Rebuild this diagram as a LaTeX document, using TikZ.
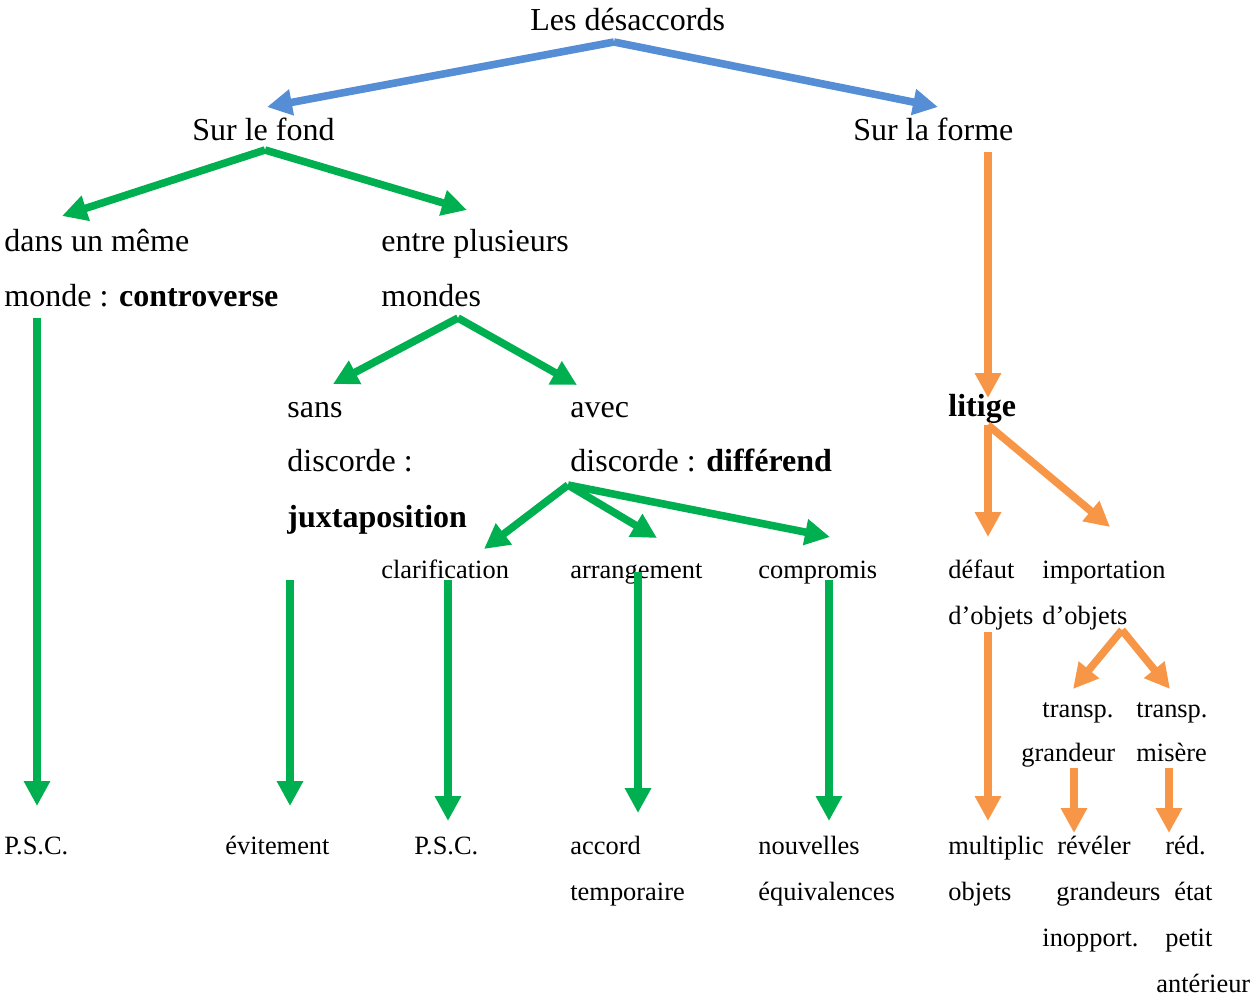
\documentclass[tikz,border=0pt]{standalone}
\usepackage{fontspec}
\setmainfont{Liberation Serif}
\usetikzlibrary{arrows.meta}
\definecolor{cblue}{HTML}{558ED5}
\definecolor{cgreen}{HTML}{00B050}
\definecolor{corange}{HTML}{F79646}
\tikzset{
  big/.style={anchor=base west,inner sep=0pt,font=\fontsize{16}{19}\selectfont},
  small/.style={anchor=base west,inner sep=0pt,font=\fontsize{13.2}{16}\selectfont},
  arr/.style={line width=3.8pt,-{Triangle[length=12.5pt,width=12.5pt]}},
  barr/.style={arr,draw=cblue,fill=cblue},
  garr/.style={arr,draw=cgreen,fill=cgreen},
  oarr/.style={arr,draw=corange,fill=corange},
}
\begin{document}
\begin{tikzpicture}[x=0.5pt,y=-0.5pt]
\useasboundingbox (0,0) rectangle (1251,997);
% texts
\node[big] (root) at (530,30) {Les désaccords};
\node[big] (fond) at (192,140) {Sur le fond};
\node[big] (forme) at (853,140) {Sur la forme};
\node[big] (meme1) at (4,251) {dans un même};
\node[big] (meme2) at (4,306) {monde : \textbf{controverse}};
\node[big] (entre1) at (381,251) {entre plusieurs};
\node[big] (entre2) at (381,306) {mondes};
\node[big] (sans1) at (287,417) {sans};
\node[big] (sans2) at (287,471) {discorde :};
\node[big] (sans3) at (287,527) {\textbf{juxtaposition}};
\node[big] (avec1) at (570,417) {avec};
\node[big] (avec2) at (570,471) {discorde : \textbf{différend}};
\node[big] (litige) at (948,416) {\textbf{litige}};
\node[small] (clar) at (381,578) {clarification};
\node[small] (arrg) at (570,578) {arrangement};
\node[small] (comp) at (758,578) {compromis};
\node[small] (def1) at (948,578) {défaut};
\node[small] (def2) at (948,624) {d’objets};
\node[small] (imp1) at (1042,578) {importation};
\node[small] (imp2) at (1042,624) {d’objets};
\node[small] (tg1) at (1042,717) {transp.};
\node[small] (tg2) at (1021,761) {grandeur};
\node[small] (tm1) at (1136,717) {transp.};
\node[small] (tm2) at (1136,761) {misère};
\node[small] (psc1) at (4,854) {P.S.C.};
\node[small] (evit) at (225,854) {évitement};
\node[small] (psc2) at (414,854) {P.S.C.};
\node[small] (acc1) at (570,854) {accord};
\node[small] (acc2) at (570,900) {temporaire};
\node[small] (nouv1) at (758,854) {nouvelles};
\node[small] (nouv2) at (758,900) {équivalences};
\node[small] (mult1) at (948,854) {multiplic};
\node[small] (mult2) at (948,900) {objets};
\node[small] (rev1) at (1057,854) {révéler};
\node[small] (rev2) at (1056,900) {grandeurs};
\node[small] (rev3) at (1042,946) {inopport.};
\node[small] (red1) at (1165,854) {réd.};
\node[small] (red2) at (1174,900) {état};
\node[small] (red3) at (1165,946) {petit};
\node[small] (red4) at (1156,992) {antérieur};
% connector points
\coordinate (rootS) at (614,42);
\coordinate (fondN) at (267,107);
\coordinate (formeN) at (938,107);
\coordinate (fondS) at (265,150);
\coordinate (memeN) at (62,216);
\coordinate (entreN) at (467,210);
\coordinate (entreS) at (458,318);
\coordinate (sansN) at (333,384);
\coordinate (avecN) at (577,385);
\coordinate (avecS) at (568,485);
\coordinate (clarN) at (484,549);
\coordinate (arrgN) at (657,538);
\coordinate (compN) at (830,537);
\coordinate (memeS) at (37,318);
\coordinate (psc1N) at (37,806);
\coordinate (sansS) at (290,580);
\coordinate (evitN) at (290,806);
\coordinate (clarS) at (448,580);
\coordinate (psc2N) at (448,821);
\coordinate (arrgS) at (638,572);
\coordinate (accN) at (638,813);
\coordinate (compS) at (829,580);
\coordinate (nouvN) at (829,821);
\coordinate (formeS) at (988,152);
\coordinate (litigeN) at (988,398);
\coordinate (litigeS) at (988,425);
\coordinate (defN) at (988,537);
\coordinate (impN) at (1110,527);
\coordinate (impS) at (1122,630);
\coordinate (tgN) at (1073,689);
\coordinate (tmN) at (1170,689);
\coordinate (defS) at (988,632);
\coordinate (multN) at (988,821);
\coordinate (tgS) at (1074,768);
\coordinate (revN) at (1074,833);
\coordinate (tmS) at (1169,768);
\coordinate (redN) at (1169,833);
% blue
\draw[barr] (rootS) -- (fondN);
\draw[barr] (rootS) -- (formeN);
% green
\draw[garr] (fondS) -- (memeN);
\draw[garr] (fondS) -- (entreN);
\draw[garr] (entreS) -- (sansN);
\draw[garr] (entreS) -- (avecN);
\draw[garr] (avecS) -- (clarN);
\draw[garr] (avecS) -- (arrgN);
\draw[garr] (avecS) -- (compN);
\draw[garr] (memeS) -- (psc1N);
\draw[garr] (sansS) -- (evitN);
\draw[garr] (clarS) -- (psc2N);
\draw[garr] (arrgS) -- (accN);
\draw[garr] (compS) -- (nouvN);
% orange
\draw[oarr] (formeS) -- (litigeN);
\draw[oarr] (litigeS) -- (defN);
\draw[oarr] (litigeS) -- (impN);
\draw[oarr] (impS) -- (tgN);
\draw[oarr] (impS) -- (tmN);
\draw[oarr] (defS) -- (multN);
\draw[oarr] (tgS) -- (revN);
\draw[oarr] (tmS) -- (redN);
\end{tikzpicture}
\end{document}
